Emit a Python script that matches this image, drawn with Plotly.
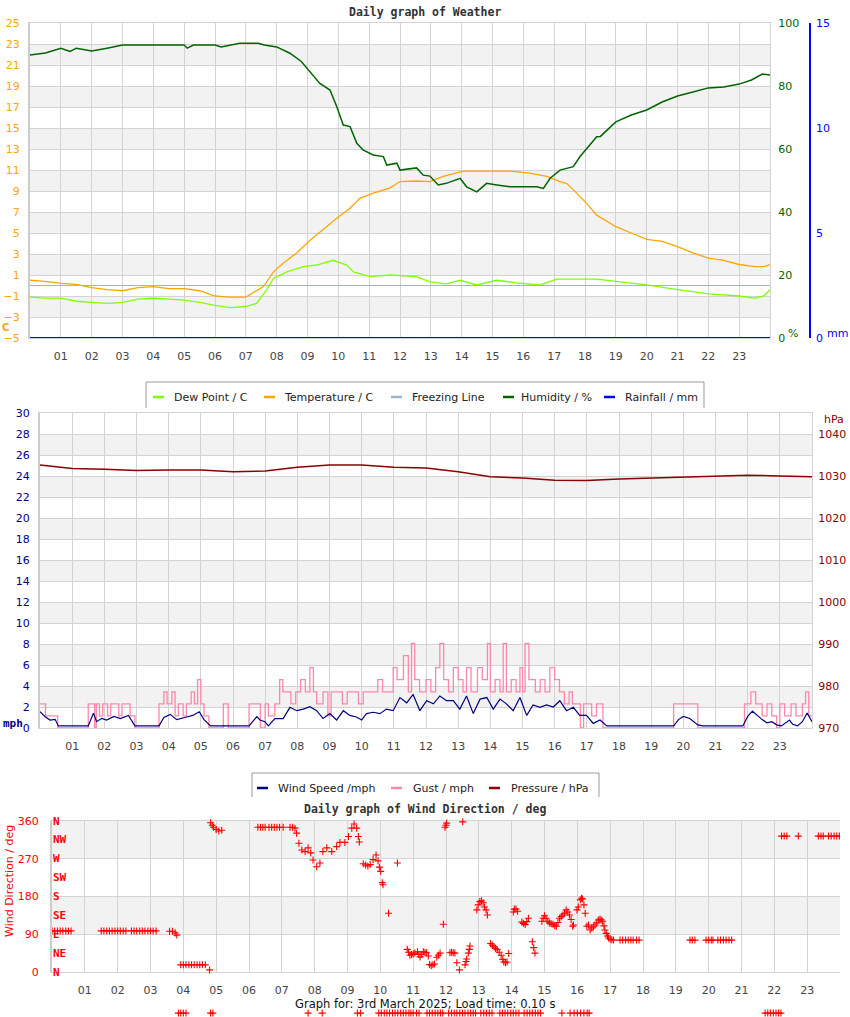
import plotly.graph_objects as go

W, H = 850, 1017

# ---------------- weather panel ----------------
temp_hours = [0, 0.5, 1, 1.5, 2, 2.5, 3, 3.5, 4, 4.5, 5, 5.5, 6, 6.5, 7, 7.24, 7.57, 7.9, 8.2, 8.65,
              9.08, 9.5, 9.95, 10.38, 10.7, 11.13, 11.68, 12.0, 12.54, 12.97, 13.4, 14.05, 14.7, 15.57,
              16.2, 16.76, 17.19, 17.41, 17.73, 18.06, 18.38, 19, 19.5, 20, 20.5, 21, 21.5, 22, 22.5,
              23, 23.5, 23.8, 24]
temp_c = [0.5, 0.4, 0.2, 0.1, -0.2, -0.4, -0.5, -0.2, -0.1, -0.3, -0.3, -0.5, -1.0, -1.1, -1.1, -0.7,
          -0.1, 1.3, 2.1, 3.1, 4.3, 5.3, 6.4, 7.35, 8.3, 8.8, 9.3, 9.9, 9.95, 9.9, 10.4, 10.9, 10.9,
          10.9, 10.7, 10.4, 9.9, 9.7, 8.8, 7.8, 6.7, 5.6, 5.0, 4.4, 4.2, 3.7, 3.1, 2.6, 2.4, 2.0, 1.8,
          1.8, 2.0]

dew_hours = [0, 0.5, 1, 1.5, 2, 2.5, 3, 3.5, 4, 4.5, 5, 5.5, 6, 6.5, 7, 7.35, 7.68, 7.9, 8.33, 8.87,
             9.3, 9.83, 10.27, 10.49, 11.04, 11.68, 12.54, 12.97, 13.5, 13.95, 14.49, 15.14, 15.78,
             16.54, 17.09, 17.73, 18.38, 19, 20, 21, 22, 23, 23.5, 23.8, 24]
dew_c = [-1.1, -1.2, -1.2, -1.5, -1.6, -1.7, -1.6, -1.3, -1.2, -1.3, -1.4, -1.6, -1.9, -2.1, -2.0,
         -1.7, -0.4, 0.7, 1.3, 1.8, 1.95, 2.4, 1.95, 1.3, 0.85, 1.0, 0.85, 0.35, 0.15, 0.5, 0.05, 0.5,
         0.25, 0.05, 0.6, 0.6, 0.6, 0.4, 0.05, -0.4, -0.8, -1.0, -1.2, -1.0, -0.4]

hum_hours = [0, 0.5, 1, 1.3, 1.5, 2, 2.5, 3, 5, 5.1, 5.3, 6, 6.2, 6.8, 7.4, 7.6, 8.0, 8.43, 8.8, 9.08,
             9.4, 9.73, 9.95, 10.16, 10.38, 10.6, 10.8, 11.13, 11.46, 11.57, 11.9, 12.0, 12.54, 12.75,
             12.97, 13.24, 13.5, 13.95, 14.16, 14.49, 14.81, 15.14, 15.57, 16.0, 16.43, 16.65, 16.87,
             17.19, 17.62, 17.84, 18.16, 18.38, 18.5, 19, 19.5, 20, 20.5, 21, 21.5, 22, 22.5, 23,
             23.4, 23.75, 24]
humidity = [89.8, 90.5, 92, 91, 92, 91.1, 92, 93, 93, 92, 93, 93, 92.4, 93.6, 93.6, 93, 92.4, 90.4,
            87.8, 84.6, 80.8, 78.7, 73.4, 67.6, 67.1, 61.8, 59.7, 58.1, 57.6, 54.9, 55.5, 53.3, 54,
            51.7, 51.4, 48.6, 49.1, 50.7, 48, 46.4, 49.1, 48.6, 48, 48, 48, 47.5, 50.7, 53.3, 54.4,
            57.6, 61.3, 63.9, 64, 68.6, 70.8, 72.4, 74.9, 76.8, 78.1, 79.4, 79.7, 80.6, 81.9, 83.8, 83.5]

freeze_hours = [0, 24]
freeze_c = [0, 0]
rain_hours = [0, 24]
rain_mm = [0, 0]

# ---------------- wind panel ----------------
wind_hours = [0.00, 0.16, 0.31, 0.47, 0.57, 1.50, 1.66, 1.76, 1.92, 2.07, 2.30, 2.50, 2.75, 2.95,
              3.70, 3.85, 4.05, 4.25, 4.50, 4.75, 4.95, 5.10, 5.30, 6.50, 6.74, 6.84, 6.99, 7.10,
              7.30, 7.56, 7.77, 7.98, 8.18, 8.39, 8.60, 8.80, 9.01, 9.22, 9.43, 9.63, 9.84, 10.00,
              10.15, 10.36, 10.57, 10.77, 10.98, 11.19, 11.40, 11.60, 11.81, 12.02, 12.23, 12.43,
              12.64, 12.85, 13.05, 13.26, 13.47, 13.68, 13.89, 14.09, 14.30, 14.50, 14.71, 14.92,
              15.13, 15.33, 15.54, 15.75, 15.96, 16.16, 16.37, 16.58, 16.78, 16.99, 17.20, 17.41,
              17.62, 19.70, 19.85, 20.00, 20.20, 20.45, 20.60, 21.85, 22.00, 22.15, 22.30, 22.45,
              22.60, 22.75, 22.90, 23.05, 23.30, 23.40, 23.55, 23.70, 23.85, 24.00]
wind_mph = [1.55, 1.08, 0.76, 0.83, 0.2, 0.2, 1.4, 0.6, 0.92, 0.76, 1.1, 0.9, 1.2, 0.2,
            0.2, 1.0, 1.3, 0.8, 1.0, 1.2, 1.55, 0.8, 0.2, 0.2, 1.08, 0.76, 0.6, 0.2,
            0.9, 0.9, 1.97, 1.65, 1.8, 2.03, 1.65, 0.9, 1.37, 0.76, 1.65, 1.2, 1.05, 0.76,
            1.37, 1.5, 1.37, 1.8, 1.65, 2.9, 2.4, 3.2, 1.65, 2.6, 2.3, 3.05,
            2.6, 2.6, 1.8, 3.05, 1.37, 2.75, 2.9, 1.8, 2.75, 2.3, 1.65, 2.9,
            1.2, 2.2, 1.97, 2.2, 2.0, 2.6, 1.65, 1.97, 1.2, 1.2, 0.44, 0.76,
            0.2, 0.2, 0.8, 1.1, 0.9, 0.3, 0.2, 0.2, 1.1, 1.6, 1.2, 0.8,
            0.5, 0.6, 0.3, 0.2, 0.76, 0.35, 0.2, 0.6, 1.43, 0.6]

gust_hours = [0.00, 0.17, 0.55, 1.50, 1.70, 1.75, 1.85, 1.95, 2.10, 2.20, 2.45, 2.55, 2.80, 2.95,
              3.70, 3.85, 3.95, 4.10, 4.20, 4.30, 4.45, 4.55, 4.70, 4.80, 4.90, 5.00, 5.10, 5.25,
              5.70, 5.85, 6.50, 6.85, 7.00, 7.10, 7.30, 7.45, 7.55, 7.80, 7.95, 8.10, 8.25, 8.39,
              8.50, 8.60, 8.80, 8.95, 9.05, 9.40, 9.55, 9.90, 10.05, 10.50, 10.65, 10.98, 11.10,
              11.30, 11.45, 11.55, 11.65, 11.80, 12.00, 12.15, 12.30, 12.43, 12.55, 12.70, 12.85,
              13.00, 13.15, 13.26, 13.40, 13.60, 13.75, 13.91, 14.00, 14.15, 14.30, 14.40, 14.50,
              14.65, 14.80, 14.92, 15.00, 15.08, 15.20, 15.40, 15.55, 15.70, 15.85, 16.00, 16.15,
              16.30, 16.45, 16.55, 16.80, 16.90, 17.15, 17.30, 17.50, 19.70, 20.45, 21.90, 22.10,
              22.25, 22.45, 22.60, 22.75, 22.90, 23.00, 23.15, 23.35, 23.50, 23.70, 23.80, 23.90, 24.00]
gust_mph = [2.3, 1.15, 0, 2.3, 0, 2.3, 1.15, 2.3, 1.15, 2.3, 1.15, 2.3, 1.15, 0,
            2.3, 3.45, 2.3, 3.45, 1.15, 2.3, 1.15, 2.3, 3.45, 2.3, 4.6, 2.3, 1.15, 0,
            2.3, 0, 2.3, 0, 2.3, 1.15, 2.3, 4.6, 3.45, 2.3, 3.45, 4.6, 3.45, 5.75,
            3.45, 2.3, 3.45, 1.15, 3.45, 2.3, 3.45, 2.3, 3.45, 4.6, 3.45, 5.75, 4.6,
            6.9, 3.45, 8.05, 4.6, 3.45, 4.6, 3.45, 5.75, 8.05, 4.6, 3.45, 5.75,
            4.6, 3.45, 5.75, 3.45, 5.75, 4.6, 8.05, 3.45, 4.6, 3.45, 8.05, 3.45,
            4.6, 3.45, 5.75, 3.45, 8.05, 4.6, 3.45, 4.6, 3.45, 5.75, 4.6, 3.45,
            2.3, 3.45, 2.3, 0, 2.3, 1.15, 2.3, 0, 2.3, 0, 2.3, 3.45,
            2.3, 1.15, 2.3, 1.15, 0, 2.3, 1.15, 2.3, 1.15, 2.3, 3.45, 1.15, 1.15]

pres_hours = list(range(0, 25))
pressure_hpa = [1032.6, 1031.8, 1031.6, 1031.3, 1031.4, 1031.4, 1031.0, 1031.2, 1032.1, 1032.6,
                1032.6, 1032.1, 1031.9, 1031.0, 1029.8, 1029.5, 1029.0, 1028.9, 1029.3, 1029.5,
                1029.8, 1030.0, 1030.2, 1030.0, 1029.8]

# ---------------- wind direction panel ----------------
dir_hours = [0, 0.08, 0.17, 0.25, 0.33, 0.42, 0.5, 0.58,
             1.5, 1.58, 1.67, 1.75, 1.83, 1.92, 2.0, 2.08, 2.17, 2.25,
             2.42, 2.5, 2.58, 2.67, 2.75, 2.83, 2.92, 3.0, 3.08, 3.17,
             3.58, 3.67, 3.75, 3.8,
             3.92, 4.0, 4.08, 4.17, 4.25, 4.33, 4.42, 4.5, 4.58, 4.67,
             4.8, 4.83, 4.88, 4.92, 5.0, 5.08, 5.17,
             6.27, 6.35, 6.42, 6.49, 6.61, 6.69, 6.77, 6.85, 6.93, 7.04, 7.25, 7.33,
             7.40, 7.45, 7.52, 7.61, 7.71, 7.80, 7.88, 7.95, 8.06, 8.16, 8.25, 8.37, 8.52, 8.67,
             8.77, 8.92, 9.03, 9.13, 9.20, 9.28, 9.33, 9.36,
             9.48, 9.55, 9.62, 9.69, 9.78, 9.87, 9.93, 9.97, 10.01, 10.06, 10.08,
             10.25, 10.52,
             10.82, 10.86, 10.9, 10.95, 11.0, 11.05, 11.13, 11.17, 11.21, 11.26, 11.31, 11.36, 11.41, 11.46,
             11.5, 11.55, 11.6, 11.65, 11.72, 11.77, 11.82, 11.92, 11.97, 12.0, 12.02,
             12.12, 12.17, 12.22, 12.27, 12.33, 12.41, 12.51,
             12.58, 12.61, 12.63, 12.68, 12.71, 12.73,
             12.94, 12.98, 13.03, 13.08, 13.13, 13.17, 13.22, 13.26,
             13.36, 13.41, 13.46, 13.51, 13.56, 13.62, 13.68, 13.73, 13.76, 13.81, 13.86, 13.91,
             14.05, 14.08, 14.13, 14.18, 14.31, 14.36, 14.41, 14.46, 14.51, 14.63, 14.67, 14.71,
             14.92, 14.96, 15.0, 15.05, 15.1, 15.15, 15.2, 15.26, 15.31, 15.36, 15.41, 15.46, 15.51,
             15.56, 15.61, 15.66, 15.71, 15.76, 15.81, 15.86, 15.88,
             15.99, 16.03, 16.09, 16.13, 16.16, 16.2, 16.24, 16.29, 16.34, 16.39, 16.44, 16.49,
             16.54, 16.59, 16.64, 16.69, 16.73, 16.77, 16.81, 16.84, 16.88, 16.92, 16.95, 17.0,
             17.05, 17.1,
             17.3, 17.38, 17.47, 17.55, 17.63, 17.7, 17.8, 17.88,
             19.43, 19.5, 19.58, 19.92, 20.0, 20.08, 20.13,
             20.28, 20.36, 20.45, 20.53, 20.62, 20.7,
             22.22, 22.3, 22.38, 22.73, 23.34, 23.42, 23.49, 23.65, 23.73, 23.82, 23.9, 23.98,
             3.85, 3.92, 4.0, 4.08, 4.83, 4.9, 7.8, 8.23, 9.3, 9.4,
             9.95, 10.03, 10.12, 10.2, 10.28, 10.37, 10.45, 10.53, 10.62, 10.7, 10.78, 10.87, 10.93,
             11.0, 11.1, 11.18, 11.42, 11.5, 11.58, 11.67, 11.75, 11.83, 11.9,
             12.08, 12.17, 12.25, 12.33, 12.42, 12.5, 12.58, 12.67, 12.75, 12.83, 12.9,
             13.06, 13.15, 13.23, 13.32, 13.4, 13.64, 13.72, 13.8, 13.88, 13.97, 14.05, 14.13, 14.22,
             14.38, 14.47, 14.55, 14.63, 14.72, 14.8, 14.88, 15.53,
             15.78, 15.9, 16.0, 16.1, 16.2, 16.3, 16.36,
             21.72, 21.8, 21.88, 21.97, 22.05, 22.13, 22.2]
dir_deg = [98, 98, 98, 98, 98, 98, 98, 98,
           98, 98, 98, 98, 98, 98, 98, 98, 98, 98,
           98, 98, 98, 98, 98, 98, 98, 98, 98, 98,
           97, 97, 93, 88,
           17, 17, 17, 17, 17, 17, 17, 17, 17, 17,
           5, 356, 350, 345, 340, 336, 338,
           345, 345, 345, 345, 345, 345, 345, 345, 345, 345, 345, 345,
           343, 331, 307, 291, 287, 296, 284, 267, 251, 260, 287, 296, 287, 299,
           309, 309, 323, 343, 353, 343, 323, 310,
           258, 255, 253, 256, 268, 279, 265, 250, 240, 213, 208,
           140, 260,
           54, 47, 40, 42, 43, 45, 48, 42, 36, 42, 48, 47, 46, 38,
           18, 15, 17, 19, 35, 40, 45, 114, 345, 350, 355,
           46, 47, 46, 45, 22, 5, 358,
           17, 25, 31, 45, 54, 62,
           148, 160, 168, 170, 165, 155, 148, 136,
           68, 64, 60, 56, 53, 47, 40, 30, 24, 22, 24, 44,
           143, 150, 150, 145, 119, 116, 113, 120, 128, 72, 58, 45,
           121, 128, 134, 128, 121, 117, 115, 114, 110, 109, 118, 128, 132,
           136, 140, 148, 143, 136, 125, 109, 112,
           148, 155, 172, 176, 174, 160, 140, 109, 112, 100, 105, 108,
           112, 117, 124, 126, 124, 121, 110, 100, 92, 86, 81, 78,
           77, 76,
           76, 76, 76, 76, 76, 76, 76, 76,
           76, 76, 76, 76, 76, 76, 76,
           76, 76, 76, 76, 76, 76,
           324, 324, 324, 324, 324, 324, 324, 324, 324, 324, 324, 324,
           -98, -98, -98, -98, -98, -98, -98, -98, -98, -98,
           -98, -98, -98, -98, -98, -98, -98, -98, -98, -98, -98, -98, -98,
           -98, -98, -98, -98, -98, -98, -98, -98, -98, -98,
           -98, -98, -98, -98, -98, -98, -98, -98, -98, -98, -98,
           -98, -98, -98, -98, -98, -98, -98, -98, -98, -98, -98, -98, -98,
           -98, -98, -98, -98, -98, -98, -98, -98,
           -98, -98, -98, -98, -98, -98, -98,
           -98, -98, -98, -98, -98, -98, -98]

hour_ticks = list(range(1, 24))
hour_labels = ["%02d" % h for h in hour_ticks]
compass = ["N", "NE", "E", "SE", "S", "SW", "W", "NW", "N"]


def fx(p):
    return p / W


def fy(p):
    return 1 - p / H


GRID = "#d3d3d3"
BAND = "#f2f2f2"
TICKFONT = "DejaVu Sans"
MONO = "DejaVu Sans Mono"

# direction panel: 0 deg at y=972px, 360 deg at y=821px
DEG_PX = (972 - 821) / 360.0

fig = go.Figure()

# panel 1
fig.add_trace(go.Scatter(x=dew_hours, y=dew_c, mode="lines", line=dict(color="#80ff00", width=1.3),
                         xaxis="x", yaxis="y"))
fig.add_trace(go.Scatter(x=temp_hours, y=temp_c, mode="lines", line=dict(color="#ffa500", width=1.3),
                         xaxis="x", yaxis="y"))
fig.add_trace(go.Scatter(x=freeze_hours, y=freeze_c, mode="lines", line=dict(color="#a3b3cb", width=1),
                         xaxis="x", yaxis="y"))
fig.add_trace(go.Scatter(x=hum_hours, y=humidity, mode="lines", line=dict(color="#006400", width=1.5),
                         xaxis="x", yaxis="y2"))
fig.add_trace(go.Scatter(x=rain_hours, y=rain_mm, mode="lines", line=dict(color="#0000ff", width=2),
                         xaxis="x", yaxis="y3", cliponaxis=False))

# panel 2
fig.add_trace(go.Scatter(x=gust_hours, y=gust_mph, mode="lines", line=dict(color="#ff88aa", width=1.3, shape="hv"),
                         xaxis="x2", yaxis="y4"))
fig.add_trace(go.Scatter(x=wind_hours, y=wind_mph, mode="lines", line=dict(color="#000080", width=1.2),
                         xaxis="x2", yaxis="y4"))
fig.add_trace(go.Scatter(x=pres_hours, y=pressure_hpa, mode="lines", line=dict(color="#8b0000", width=1.5),
                         xaxis="x2", yaxis="y5"))

# panel 3: drawn on a hidden twin of its axes that reaches the page bottom,
# so the stray readings below the plot stay visible as in the original
fig.add_trace(go.Scatter(x=dir_hours, y=dir_deg, mode="markers",
                         marker=dict(symbol="cross-thin", size=5, line=dict(color="#ff0000", width=1.1)),
                         xaxis="x4", yaxis="y7"))

fig.update_traces(showlegend=False, hoverinfo="skip")


def xax(domain, anchor):
    return dict(domain=domain, anchor=anchor, range=[0, 24], tickvals=hour_ticks, ticktext=hour_labels,
                showgrid=True, gridcolor=GRID, gridwidth=1, zeroline=False, showline=True, linecolor=GRID,
                mirror=True, ticks="", ticklabelstandoff=8, fixedrange=True,
                tickfont=dict(family=TICKFONT, size=11, color="#444444"))


def yax(domain, anchor, rng, vals, color, standoff):
    return dict(domain=domain, anchor=anchor, range=rng, tickvals=vals, showgrid=True, gridcolor=GRID,
                zeroline=False, showline=True, linecolor="#cccccc", linewidth=2, ticks="",
                ticklabelstandoff=standoff, fixedrange=True,
                tickfont=dict(family=TICKFONT, size=11, color=color))


fig.update_layout(
    width=W, height=H, autosize=False, margin=dict(l=0, r=0, t=0, b=0, pad=0, autoexpand=False),
    paper_bgcolor="white", plot_bgcolor="rgba(0,0,0,0)", showlegend=False,
    xaxis=xax([fx(30), fx(770)], "y"),
    yaxis=yax([fy(338), fy(23)], "x", [-5, 25], list(range(-5, 26, 2)), "#ffa500", 6),
    yaxis2=dict(overlaying="y", anchor="x", side="right", range=[0, 100], tickvals=list(range(0, 101, 20)),
                showgrid=False, zeroline=False, showline=True, linecolor=GRID, ticks="", ticklabelstandoff=5,
                tickfont=dict(family=TICKFONT, size=11, color="#006400"), fixedrange=True),
    yaxis3=dict(overlaying="y", anchor="free", side="right", position=fx(810), range=[0, 15],
                tickvals=[0, 5, 10, 15], showgrid=False, zeroline=False, showline=True, linecolor="#0000ff",
                linewidth=1.5, ticks="", ticklabelstandoff=3,
                tickfont=dict(family=TICKFONT, size=11, color="#0000ff"), fixedrange=True),
    xaxis2=xax([fx(40), fx(812)], "y4"),
    yaxis4=yax([fy(728), fy(413)], "x2", [0, 30], list(range(0, 31, 2)), "#00008b", 6),
    yaxis5=dict(overlaying="y4", anchor="x2", side="right", range=[970, 1045],
                tickvals=list(range(970, 1041, 10)), showgrid=False, zeroline=False, showline=True,
                linecolor=GRID, ticks="", ticklabelstandoff=3,
                tickfont=dict(family=TICKFONT, size=11, color="#8b0000"), fixedrange=True),
    xaxis3=xax([fx(52), fx(840)], "y6"),
    yaxis6=yax([fy(972), fy(821)], "x3", [0, 360], [0, 90, 180, 270, 360], "#ff0000", 9),
    xaxis4=dict(domain=[fx(52), fx(840)], anchor="y7", range=[0, 24], visible=False, showgrid=False,
                zeroline=False, fixedrange=True),
    yaxis7=dict(domain=[0, fy(811)], anchor="x4", range=[-(H - 972) / DEG_PX, (972 - 811) / DEG_PX],
                visible=False, showgrid=False, zeroline=False, fixedrange=True),
)

shapes = []
for lo in [-3, 1, 5, 9, 13, 17, 21]:
    shapes.append(dict(type="rect", xref="x domain", yref="y", x0=0, x1=1, y0=lo, y1=lo + 2,
                       fillcolor=BAND, line=dict(width=0), layer="below"))
for lo in [2, 6, 10, 14, 18, 22, 26]:
    shapes.append(dict(type="rect", xref="x2 domain", yref="y4", x0=0, x1=1, y0=lo, y1=lo + 2,
                       fillcolor=BAND, line=dict(width=0), layer="below"))
for lo in [90, 270]:
    shapes.append(dict(type="rect", xref="x3 domain", yref="y6", x0=0, x1=1, y0=lo, y1=lo + 90,
                       fillcolor=BAND, line=dict(width=0), layer="below"))

annotations = []


def text(x, y, s, color="#222222", size=11, family=TICKFONT, anchor="left", angle=0):
    annotations.append(dict(x=fx(x), y=fy(y), xref="paper", yref="paper", text=s, showarrow=False,
                            xanchor=anchor, yanchor="middle", textangle=angle,
                            font=dict(family=family, size=size, color=color)))


# legend boxes (open at the bottom like the reference)
def legend_box(x0, x1, top, bottom):
    shapes.append(dict(type="path", xref="paper", yref="paper",
                       path="M%f,%f L%f,%f L%f,%f L%f,%f" % (fx(x0), fy(bottom), fx(x0), fy(top),
                                                             fx(x1), fy(top), fx(x1), fy(bottom)),
                       line=dict(color="#999999", width=1)))


def legend_item(x_line, x_text, y, color, label):
    shapes.append(dict(type="line", xref="paper", yref="paper", x0=fx(x_line), x1=fx(x_line + 11),
                       y0=fy(y), y1=fy(y), line=dict(color=color, width=2.5)))
    text(x_text, y, label)


legend_box(146, 704, 382, 408)
legend_item(153, 172, 397, "#80ff00", "Dew Point / C")
legend_item(264, 282, 397, "#ffa500", "Temperature / C")
legend_item(391, 410, 397, "#a3b3cb", "Freezing Line")
legend_item(503, 519, 397, "#006400", "Humidity / %")
legend_item(604, 623, 397, "#0000ff", "Rainfall / mm")

legend_box(252, 599, 773, 797)
legend_item(257, 276, 788, "#000080", "Wind Speed /mph")
legend_item(391, 411, 788, "#ff88aa", "Gust / mph")
legend_item(489, 509, 788, "#8b0000", "Pressure / hPa")

# titles and unit labels
text(425, 12, "<b>Daily graph of Weather</b>", color="#333333", size=11.5, family=MONO, anchor="center")
text(425, 809, "<b>Daily graph of Wind Direction / deg</b>", color="#333333", size=11.5, family=MONO,
     anchor="center")
text(425, 1004, "Graph for: 3rd March 2025; Load time: 0.10 s", color="#111111", size=11.5, anchor="center")
text(0, 327, "<b>C</b>", color="#ffa500", size=10)
text(786, 333, "%", color="#006400", size=11)
text(825, 333, "mm", color="#0000ff", size=11)
text(1, 723, "<b>mph</b>", color="#00008b", size=11, family=MONO)
text(822, 419, "hPa", color="#8b0000", size=11)
text(9, 881, "Wind Direction / deg", color="#ff0000", size=11, anchor="center", angle=-90)
for i, lab in enumerate(compass):
    annotations.append(dict(x=fx(51), y=i * 45, xref="paper", yref="y6", text="<b>%s</b>" % lab,
                            showarrow=False, xanchor="left", yanchor="middle",
                            font=dict(family=MONO, size=11, color="#ff0000")))

fig.update_layout(shapes=shapes, annotations=annotations)

# the page body keeps the browser's default 8px margin otherwise
fig.write_html("out.html", config={"displayModeBar": False},
               post_script="document.body.style.margin = '0px';")
